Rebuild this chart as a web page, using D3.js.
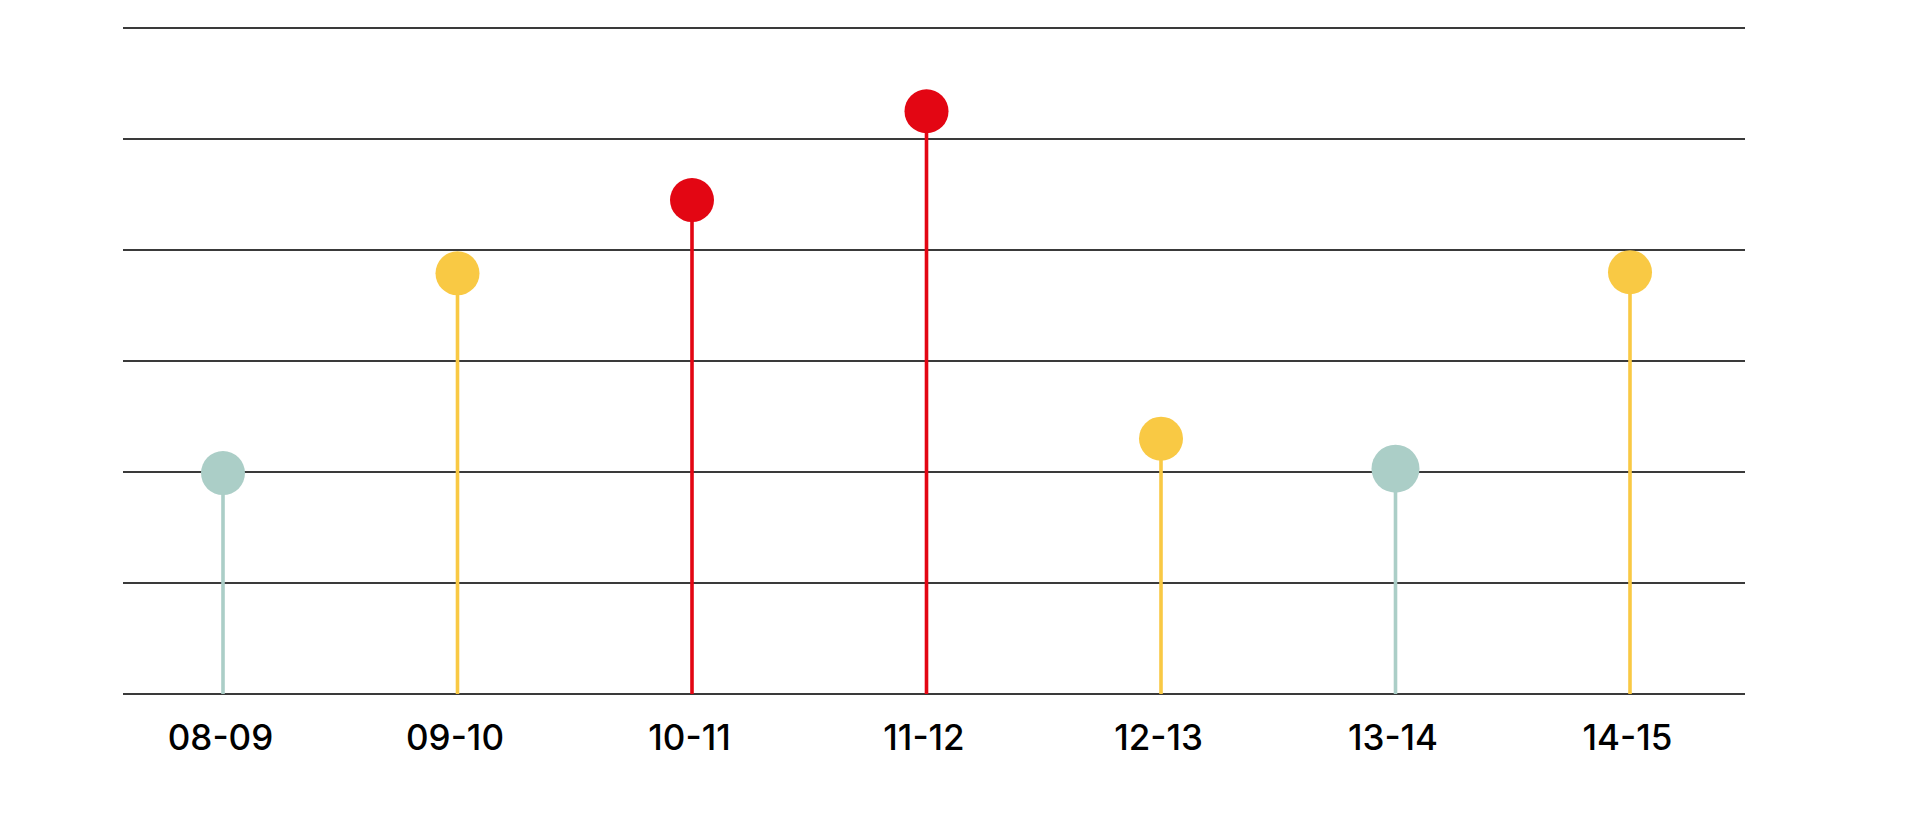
<!DOCTYPE html>
<html>
<head>
<meta charset="utf-8">
<script src="https://cdn.jsdelivr.net/npm/d3@7"></script>
<style>
  body { margin: 0; background: #fff; }
  svg { display: block; }
  .tick text { font-family: Inter, "Open Sans", sans-serif; font-weight: 500; }
</style>
</head>
<body>
<svg width="1920" height="820"></svg>
<script>
// categories and values (in gridline units)
const seasons = ["08-09", "09-10", "10-11", "11-12", "12-13", "13-14", "14-15"];
const values = [1.99, 3.79, 4.45, 5.25, 2.30, 2.03, 3.80];
const groups = ["low", "mid", "high", "high", "mid", "low", "mid"];
const gridTicks = [0, 1, 2, 3, 4, 5, 6];

const dataset = seasons.map((s, i) => ({season: s, value: values[i], group: groups[i]}));

// colours
const colors = {low: "#abcec7", mid: "#f9c944", high: "#e30613"};

const svg = d3.select("svg");

// gridlines span wider than the points
const gridLeft = 123, gridRight = 1745;

const xScale = d3.scalePoint()
  .domain(seasons)
  .range([223, 1630]);

const yScale = d3.scaleLinear()
  .domain([0, 6])
  .range([694, 28]);

// Horizontal gridlines
svg.append("g")
  .selectAll("line")
  .data(gridTicks)
  .enter()
  .append("line")
  .attr("x1", gridLeft)
  .attr("x2", gridRight)
  .attr("y1", d => yScale(d))
  .attr("y2", d => yScale(d))
  .attr("stroke", "#3a3a3a")
  .attr("stroke-width", 2);

// x axis labels
const xAxis = d3.axisBottom(xScale).tickSize(0).tickPadding(0);
const xg = svg.append("g")
  .attr("transform", `translate(0,${yScale(0)})`)
  .call(xAxis);
xg.select(".domain").remove();
xg.selectAll(".tick text")
  .attr("dy", 0)
  .attr("y", 56)
  .attr("x", -3)
  .attr("font-size", 35)
  .attr("fill", "#000");

// stems
svg.append("g")
  .selectAll("line")
  .data(dataset)
  .enter()
  .append("line")
  .attr("x1", d => xScale(d.season))
  .attr("x2", d => xScale(d.season))
  .attr("y1", yScale(0))
  .attr("y2", d => yScale(d.value))
  .attr("stroke", d => colors[d.group])
  .attr("stroke-width", 3.6);

// dots
svg.append("g")
  .selectAll("circle")
  .data(dataset)
  .enter()
  .append("circle")
  .attr("cx", d => xScale(d.season))
  .attr("cy", d => yScale(d.value))
  .attr("r", d => d.season === "13-14" ? 24 : 22)
  .attr("fill", d => colors[d.group]);
</script>
</body>
</html>
